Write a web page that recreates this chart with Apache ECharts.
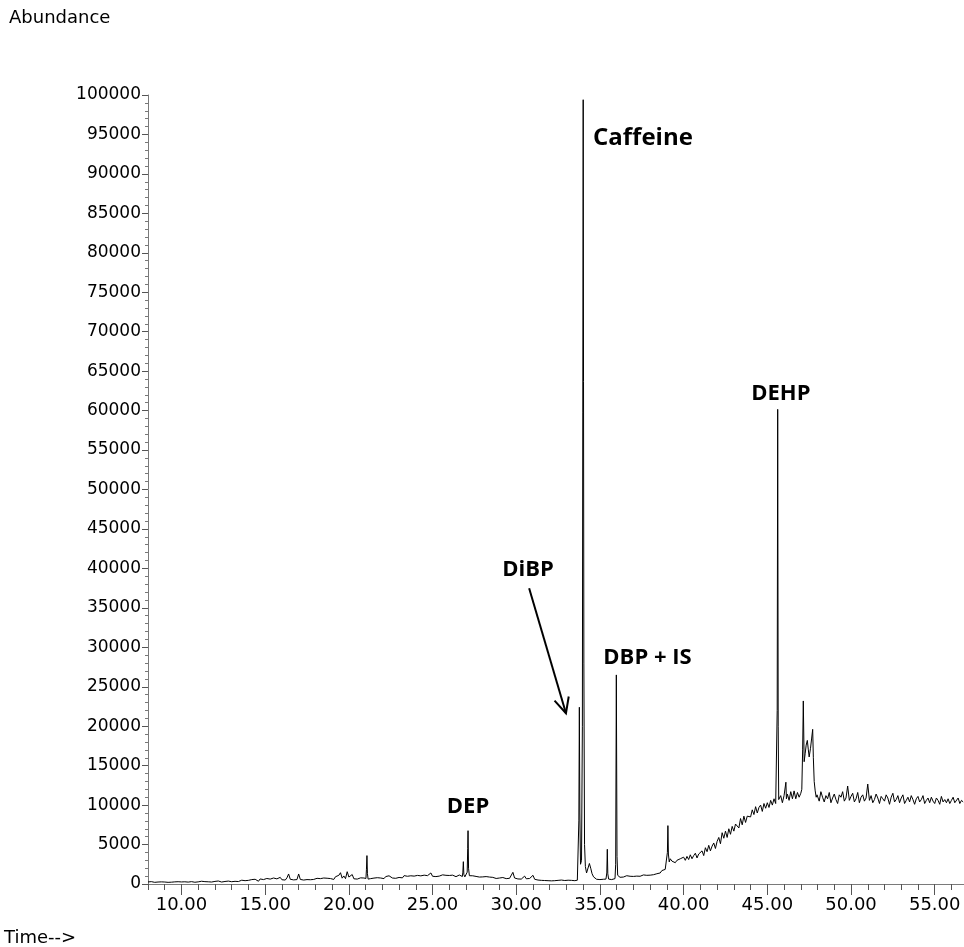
<!DOCTYPE html>
<html>
<head>
<meta charset="utf-8">
<script src="https://cdn.jsdelivr.net/npm/echarts@6/dist/echarts.min.js"></script>
<style>html,body{margin:0;padding:0;background:#fff}#c{width:964px;height:947px}</style>
</head>
<body>
<div id="c"></div>
<script>
// Time axis
const xMin = 8.0, xMax = 56.75;
const xMajorTicks = [10, 15, 20, 25, 30, 35, 40, 45, 50, 55];
const xMinorTicks = [8,9,10,11,12,13,14,15,16,17,18,19,20,21,22,23,24,25,26,27,28,29,30,31,32,33,34,35,36,37,38,39,40,41,42,43,44,45,46,47,48,49,50,51,52,53,54,55,56];
const yMax = 100000, yStep = 5000;

// Baseline trace sampled every 0.1 min from 8.0 min (null = covered by a peak list)
const gridStart = 8.0, gridStep = 0.1;
const baseline = [
  260,220,300,240,210,280,250,190,270,230,
  250,300,210,260,230,180,270,240,290,220,
  260,210,280,330,240,200,300,250,220,310,
  270,230,350,260,300,220,280,340,250,290,
  330,260,380,300,250,410,320,280,370,310,
  290,400,340,450,310,380,480,350,420,330,
  460,360,560,400,600,420,350,640,460,560,
  400,700,480,620,430,760,520,650,460,840,
  540,720,500,780,1270,600,740,520,700,560,
  1270,580,760,500,700,560,740,540,680,580,
  560,720,520,680,580,760,540,730,590,690,
  700,580,920,680,1100,1430,740,1020,680,1560,
  880,740,1200,660,860,620,740,780,630,760,
  null,null,560,680,620,750,690,800,640,760,
  840,680,940,740,1040,1270,760,920,720,960,
  830,1000,780,1060,860,980,800,1040,880,1000,
  860,1090,900,1030,840,1120,930,1060,880,1400,
  980,1140,940,1120,1000,930,1160,980,1100,960,
  1080,940,1120,980,930,1060,1140,960,null,null,
  null,null,null,930,1040,860,960,1040,880,1000,
  900,800,940,740,880,680,840,740,700,860,
  760,700,820,740,680,760,720,800,1480,760,
  700,640,760,620,700,1000,660,620,700,580,
  1100,600,540,500,580,460,520,440,480,420,
  460,400,480,420,380,460,420,500,400,440,
  420,480,400,460,500,420,null,null,null,null,
  null,null,null,null,null,null,null,null,600,520,
  560,480,600,520,null,null,700,560,640,null,
  null,null,850,1000,880,920,1050,900,980,1080,
  960,1040,1000,1100,980,1060,1150,1020,1100,1180,
  1120,1250,1180,1350,1300,1450,1400,1700,1600,1850,
  null,null,3200,2900,3100,2700,3000,2800,3200,3000,
  3400,3000,3500,3100,3700,3200,3600,3900,3300,3800,
  3700,4200,3600,4600,4100,4900,4200,4800,5200,4500,
  5400,5900,5100,6500,5800,6700,5900,7000,6300,7300,
  6700,7600,7800,7100,8300,7500,8600,7800,8600,8800,
  8500,9400,8800,9800,9000,9700,10000,9200,10200,9600,
  10300,9700,10600,10000,10800,10200,null,10500,11200,10300,
  11200,null,11400,10600,11700,10800,11800,10800,11600,11000,
  null,null,null,null,null,null,null,null,null,null,
  11300,10500,11700,11000,10400,11200,10800,11600,10300,10900,
  11400,10700,10200,11300,11000,11700,10500,10900,12420,10600,
  11100,11500,10400,10800,11600,10300,11000,11300,10500,10900,
  12670,10600,11200,10300,10700,11400,10900,10200,11100,10800,
  10500,11300,10900,10100,11000,11500,10400,10700,11200,10300,
  10900,11300,10200,10600,11000,10400,11200,10700,10100,10800,
  11100,10400,10700,11200,10200,10600,10900,10300,11000,10500,
  10200,10900,10600,10100,11100,10400,10700,10300,10800,10200,
  10600,11000,10300,10500,10900,10200,10600,10400
];

// Peaks [time, abundance]
const peak21 = [[21.02,700],[21.05,1800],[21.08,3600],[21.11,1300],[21.15,620]];
const peakDEP = [[26.78,950],[26.81,1500],[26.84,2830],[26.87,1200],[26.93,900],[27.0,1050],[27.07,1500],[27.1,4500],[27.12,6760],[27.15,2000],[27.2,1050]];
const peakCaffeine = [[33.65,480],[33.7,700],[33.74,8000],[33.77,22400],[33.8,9000],[33.84,2500],[33.9,3000],[33.95,20000],[34.0,99400],[34.04,28000],[34.08,5000],[34.13,2200],[34.2,1400],[34.28,1600],[34.37,2600],[34.45,2000],[34.53,1300],[34.62,900],[34.7,700]];
const peak35 = [[35.36,620],[35.41,1400],[35.44,4400],[35.47,1300],[35.52,620]];
const peakDBP = [[35.9,680],[35.94,2500],[35.98,26500],[36.02,3500],[36.06,1100],[36.1,920]];
const peak39 = [[38.99,1900],[39.03,4000],[39.06,7400],[39.09,3800],[39.14,2800]];
const peakDEHP = [[45.56,10400],[45.59,22000],[45.62,60160],[45.65,20000],[45.68,10700]];
const peak46 = [[46.08,11100],[46.11,12900],[46.14,10800]];
const peak47 = [[47.0,11500],[47.06,12000],[47.11,17000],[47.15,23200],[47.2,15500],[47.26,16500],[47.32,17600],[47.39,18200],[47.45,17000],[47.5,16100],[47.58,17200],[47.65,18500],[47.71,19600],[47.75,16000],[47.8,13000],[47.86,11800],[47.92,11000],[47.97,11300]];

// Annotations [label, time, abundance, font size]
const labels = [
  ['Caffeine', 37.57, 94550, 24],
  ['DEP', 27.12, 9760, 22],
  ['DiBP', 30.70, 39800, 22],
  ['DBP + IS', 37.84, 28640, 22],
  ['DEHP', 45.81, 62100, 22]
];
const arrowFrom = [30.77, 37480];
const arrowTo = [32.97, 21640];

let pts = [];
baseline.forEach((v, i) => { if (v !== null) pts.push([+(gridStart + i * gridStep).toFixed(2), v]); });
[peak21, peakDEP, peakCaffeine, peak35, peakDBP, peak39, peakDEHP, peak46, peak47].forEach(p => { pts = pts.concat(p); });
pts.sort((a, b) => a[0] - b[0]);

const chart = echarts.init(document.getElementById('c'), null, {renderer: 'canvas'});
const axisFont = 'DejaVu Sans';
const option = {
  animation: false,
  backgroundColor: '#fff',
  grid: {left: 148, right: 0, top: 95, bottom: 63, containLabel: false},
  xAxis: [{
    type: 'value', min: xMin, max: xMax, position: 'bottom',
    axisLine: {show: true, lineStyle: {color: '#7a7a7a', width: 1}},
    axisTick: {show: true, length: 11, lineStyle: {color: '#555'}, customValues: xMajorTicks},
    axisLabel: {show: true, customValues: xMajorTicks, formatter: v => v.toFixed(2), fontFamily: axisFont, fontSize: 18, color: '#000', margin: 12},
    splitLine: {show: false}
  }, {
    type: 'value', min: xMin, max: xMax, position: 'bottom',
    axisLine: {show: false},
    axisTick: {show: true, length: 6, lineStyle: {color: '#555'}, customValues: xMinorTicks},
    axisLabel: {show: false},
    splitLine: {show: false}
  }],
  yAxis: {
    type: 'value', min: 0, max: yMax, interval: yStep,
    axisLine: {show: true, lineStyle: {color: '#7a7a7a', width: 1}},
    axisTick: {show: true, length: 6, lineStyle: {color: '#555'}},
    minorTick: {show: true, splitNumber: 5, length: 3, lineStyle: {color: '#777'}},
    axisLabel: {fontFamily: axisFont, fontSize: 17, color: '#000', margin: 7, formatter: v => String(v)},
    splitLine: {show: false}
  },
  series: [{
    type: 'line', data: pts, xAxisIndex: 0, yAxisIndex: 0,
    showSymbol: false, symbol: 'none', sampling: 'none',
    lineStyle: {color: '#000', width: 1},
    clip: true
  }]
};
chart.setOption(option);

const P = (t, v) => chart.convertToPixel({seriesIndex: 0}, [t, v]);
const g = [];
g.push({type: 'text', left: 9, top: 9, style: {text: 'Abundance', font: '18px "DejaVu Sans"', fill: '#000'}});
g.push({type: 'text', left: 4, top: 929, style: {text: 'Time-->', font: '18px "DejaVu Sans"', fill: '#000'}});
labels.forEach(([txt, t, v, fs]) => {
  const p = P(t, v);
  g.push({type: 'text', x: p[0], y: p[1], style: {text: txt, font: 'bold ' + fs + 'px "Open Sans"', fill: '#000', align: 'center', verticalAlign: 'middle'}});
});
const a0 = P(arrowFrom[0], arrowFrom[1]);
const a1 = P(arrowTo[0], arrowTo[1]);
const ang = Math.atan2(a1[1] - a0[1], a1[0] - a0[0]);
const L = 17, spread = 0.45;
const h1 = [a1[0] - L * Math.cos(ang - spread), a1[1] - L * Math.sin(ang - spread)];
const h2 = [a1[0] - L * Math.cos(ang + spread), a1[1] - L * Math.sin(ang + spread)];
g.push({type: 'line', shape: {x1: a0[0], y1: a0[1], x2: a1[0], y2: a1[1]}, style: {stroke: '#000', lineWidth: 2}});
g.push({type: 'polyline', shape: {points: [h1, a1, h2]}, style: {stroke: '#000', lineWidth: 2, fill: null}});
chart.setOption({graphic: g});
</script>
</body>
</html>
